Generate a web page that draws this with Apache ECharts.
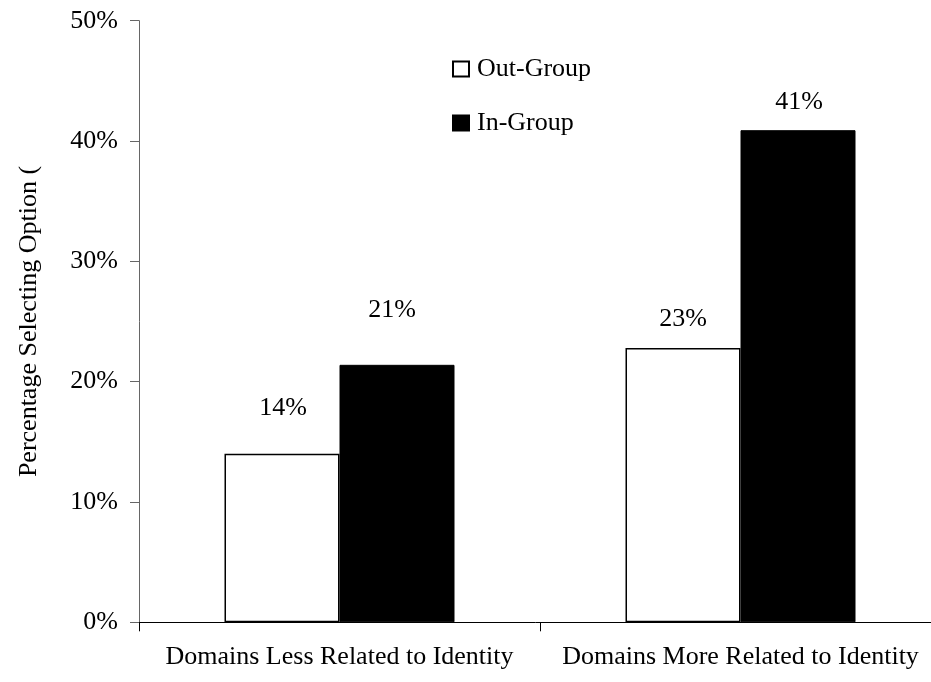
<!DOCTYPE html>
<html>
<head>
<meta charset="utf-8">
<script src="https://cdn.jsdelivr.net/npm/echarts@6/dist/echarts.min.js"></script>
<style>
html,body{margin:0;padding:0;background:#fff;overflow:hidden;}
#chart{width:931px;height:682px;}
</style>
</head>
<body>
<div id="chart"></div>
<script>
// Data
const categories = ['Domains Less Related to Identity', 'Domains More Related to Identity'];
const seriesNames = ['Out-Group', 'In-Group'];
const outGroup = [14.0, 22.8];
const inGroup = [21.4, 40.9];
const yTicks = [0, 10, 20, 30, 40, 50];
const yAxisName = 'Percentage Selecting Option (';

// Label placement (style, not data)
const outLabelOffsets = [[1, -33], [0, -16]];
const inLabelOffsets = [[-5, -42], [1, -15]];

const FONT = '"Liberation Serif", "Times New Roman", serif';
const FS = 26;

function buildData(vals, offsets) {
  return vals.map((v, i) => ({ value: v, label: { offset: offsets[i] } }));
}

const chart = echarts.init(document.getElementById('chart'), null, { renderer: 'canvas' });
chart.setOption({
  backgroundColor: '#ffffff',
  animation: false,
  textStyle: { fontFamily: FONT, color: '#000' },
  grid: { left: 139, width: 802, top: 20.7, height: 601.6, containLabel: false, outerBoundsMode: 'none' },
  legend: {
    data: seriesNames,
    orient: 'vertical',
    left: 452,
    top: 56,
    padding: 0,
    itemWidth: 16,
    itemHeight: 15,
    itemGap: 28,
    icon: 'rect',
    selectedMode: false,
    textStyle: { fontFamily: FONT, fontSize: FS, color: '#000', padding: [0, 0, 0, 3] }
  },
  xAxis: {
    type: 'category',
    data: categories,
    axisLine: { lineStyle: { color: '#000', width: 1 } },
    axisTick: { show: true, length: 9, lineStyle: { color: '#000' } },
    axisLabel: { fontFamily: FONT, fontSize: FS, color: '#000', margin: 22, interval: 0 },
    splitLine: { show: false }
  },
  yAxis: {
    type: 'value',
    min: yTicks[0],
    max: yTicks[yTicks.length - 1],
    interval: yTicks[1] - yTicks[0],
    name: yAxisName,
    nameLocation: 'middle',
    nameGap: 97,
    nameRotate: 90,
    nameTextStyle: { fontFamily: FONT, fontSize: FS, color: '#000' },
    axisLine: { show: true, lineStyle: { color: '#666', width: 1 } },
    axisTick: { show: true, length: 9, lineStyle: { color: '#666' } },
    axisLabel: { fontFamily: FONT, fontSize: FS, color: '#000', margin: 21, formatter: '{value}%' },
    splitLine: { show: false }
  },
  series: [
    {
      name: seriesNames[0],
      type: 'bar',
      data: buildData(outGroup, outLabelOffsets),
      barWidth: 115,
      barGap: '0%',
      itemStyle: { color: '#fff', borderColor: '#000', borderWidth: 1.5 },
      label: {
        show: true, position: 'top', distance: 0,
        fontFamily: FONT, fontSize: FS, color: '#000',
        formatter: p => Math.round(p.value) + '%'
      }
    },
    {
      name: seriesNames[1],
      type: 'bar',
      data: buildData(inGroup, inLabelOffsets),
      barWidth: 115,
      barGap: '0%',
      itemStyle: { color: '#000', borderColor: '#000', borderWidth: 1 },
      label: {
        show: true, position: 'top', distance: 0,
        fontFamily: FONT, fontSize: FS, color: '#000',
        formatter: p => Math.round(p.value) + '%'
      }
    }
  ]
});
</script>
</body>
</html>
